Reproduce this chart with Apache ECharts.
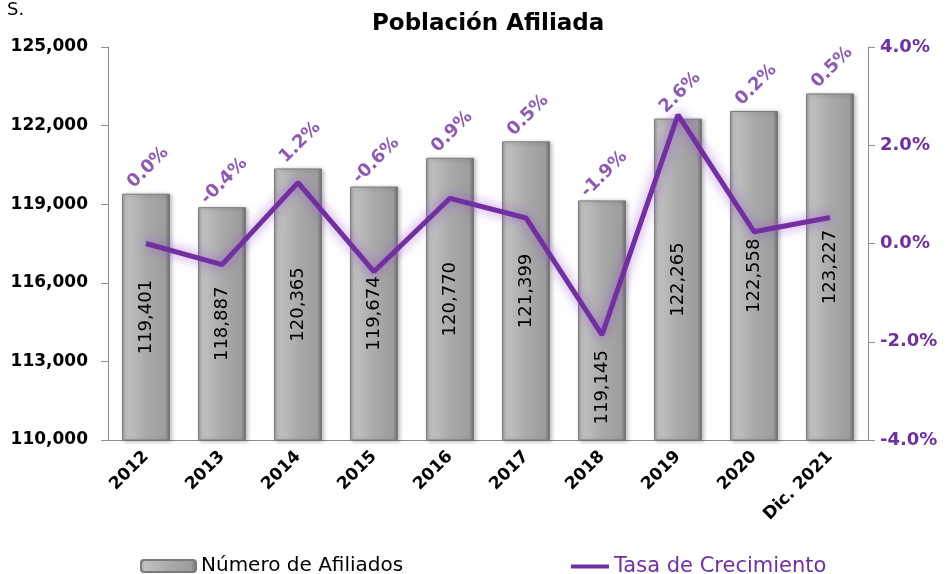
<!DOCTYPE html>
<html>
<head>
<meta charset="utf-8">
<script src="https://cdn.jsdelivr.net/npm/echarts@6/dist/echarts.min.js"></script>
<style>
  html, body { margin: 0; padding: 0; background: #fff; }
  #chart { width: 950px; height: 574px; }
</style>
</head>
<body>
<div id="chart"></div>
<script>
// data
var years = ['2012', '2013', '2014', '2015', '2016', '2017', '2018', '2019', '2020', 'Dic. 2021']
var afiliados = [119401, 118887, 120365, 119674, 120770, 121399, 119145, 122265, 122558, 123227]
var tasa = [0.0, -0.43, 1.24, -0.57, 0.92, 0.52, -1.86, 2.62, 0.24, 0.53] // percent

var purple = '#7030a0'
var font = 'DejaVu Sans'

var chart = echarts.init(document.getElementById('chart'))

function miles(v) {
  return v.toLocaleString('en-US')
}

var barData = afiliados.map(function(v, i) {
  // 2018 label sits low in the bar, below the line
  if (i === 6) {
    return { value: v, label: { position: 'insideBottom', distance: 16, align: 'left', verticalAlign: 'middle' } }
  }
  return v
})

chart.setOption({
  animation: false,
  textStyle: { fontFamily: font },
  title: [{
    text: 'Población Afiliada',
    left: 367,
    top: 8,
    textStyle: { fontFamily: font, fontSize: 23, fontWeight: 'bold', color: '#000' }
  }, {
    text: 'S.',
    left: 2,
    top: -4,
    textStyle: { fontFamily: font, fontSize: 18, fontWeight: 'normal', color: '#000' }
  }],
  grid: {
    left: 108,
    right: 82,
    top: 47,
    bottom: 134
  },
  legend: [{
    data: ['Número de Afiliados'],
    left: 135,
    top: 551,
    itemWidth: 55,
    itemHeight: 12,
    itemGap: 6,
    textStyle: { fontFamily: font, fontSize: 20, color: '#000' }
  }, {
    data: [{ name: 'Tasa de Crecimiento', icon: 'rect' }],
    left: 566,
    top: 551,
    itemWidth: 38,
    itemHeight: 4,
    textStyle: { fontFamily: font, fontSize: 21, color: purple }
  }],
  xAxis: {
    type: 'category',
    data: years,
    axisLine: { onZero: false, lineStyle: { color: '#8c8c8c', width: 1 } },
    axisTick: { length: 7, lineStyle: { color: '#8c8c8c' } },
    axisLabel: {
      rotate: 45,
      margin: 14,
      color: '#000',
      fontFamily: font,
      fontSize: 17,
      fontWeight: 'bold'
    }
  },
  yAxis: [{
    type: 'value',
    min: 110000,
    max: 125000,
    interval: 3000,
    splitLine: { show: false },
    axisLine: { show: true, lineStyle: { color: '#8c8c8c' } },
    axisTick: { show: true, length: 7, lineStyle: { color: '#8c8c8c' } },
    axisLabel: {
      margin: 20,
      color: '#000',
      fontFamily: font,
      fontSize: 17,
      fontWeight: 'bold',
      formatter: miles
    }
  }, {
    type: 'value',
    min: -4,
    max: 4,
    interval: 2,
    splitLine: { show: false },
    axisLine: { show: true, lineStyle: { color: '#8c8c8c' } },
    axisTick: { show: true, length: 7, lineStyle: { color: '#8c8c8c' } },
    axisLabel: {
      margin: 12,
      color: purple,
      fontFamily: font,
      fontSize: 18,
      fontWeight: 'bold',
      formatter: function(v) { return v.toFixed(1) + '%' }
    }
  }],
  series: [{
    name: 'Número de Afiliados',
    type: 'bar',
    barWidth: '63%',
    data: barData,
    itemStyle: {
      color: new echarts.graphic.LinearGradient(0, 0, 1, 0, [
        { offset: 0, color: '#9a9a9a' },
        { offset: 0.08, color: '#c2c2c2' },
        { offset: 0.5, color: '#aaaaaa' },
        { offset: 0.9, color: '#9d9d9d' },
        { offset: 1, color: '#6c6c6c' }
      ]),
      borderColor: '#7a7a7a',
      borderWidth: 1,
      shadowColor: 'rgba(0,0,0,0.3)',
      shadowBlur: 4,
      shadowOffsetX: 2,
      shadowOffsetY: 1
    },
    label: {
      show: true,
      position: 'inside',
      rotate: 90,
      color: '#000',
      fontFamily: font,
      fontSize: 18,
      formatter: function(p) { return miles(p.value) }
    },
    z: 2
  }, {
    // carries the growth-rate labels just above each bar
    name: 'etiquetas',
    type: 'scatter',
    data: afiliados,
    symbolSize: 0,
    silent: true,
    label: {
      show: true,
      position: 'top',
      distance: 24,
      offset: [3, 0],
      rotate: 45,
      align: 'center',
      verticalAlign: 'middle',
      color: purple,
      fontFamily: font,
      fontSize: 18,
      fontWeight: 'bold',
      formatter: function(p) { return tasa[p.dataIndex].toFixed(1) + '%' }
    },
    z: 4
  }, {
    name: 'Tasa de Crecimiento',
    type: 'line',
    yAxisIndex: 1,
    data: tasa,
    symbol: 'none',
    color: purple,
    lineStyle: {
      color: purple,
      width: 5,
      shadowColor: 'rgba(150,70,210,0.75)',
      shadowBlur: 12
    },
    z: 3
  }]
})
</script>
</body>
</html>
